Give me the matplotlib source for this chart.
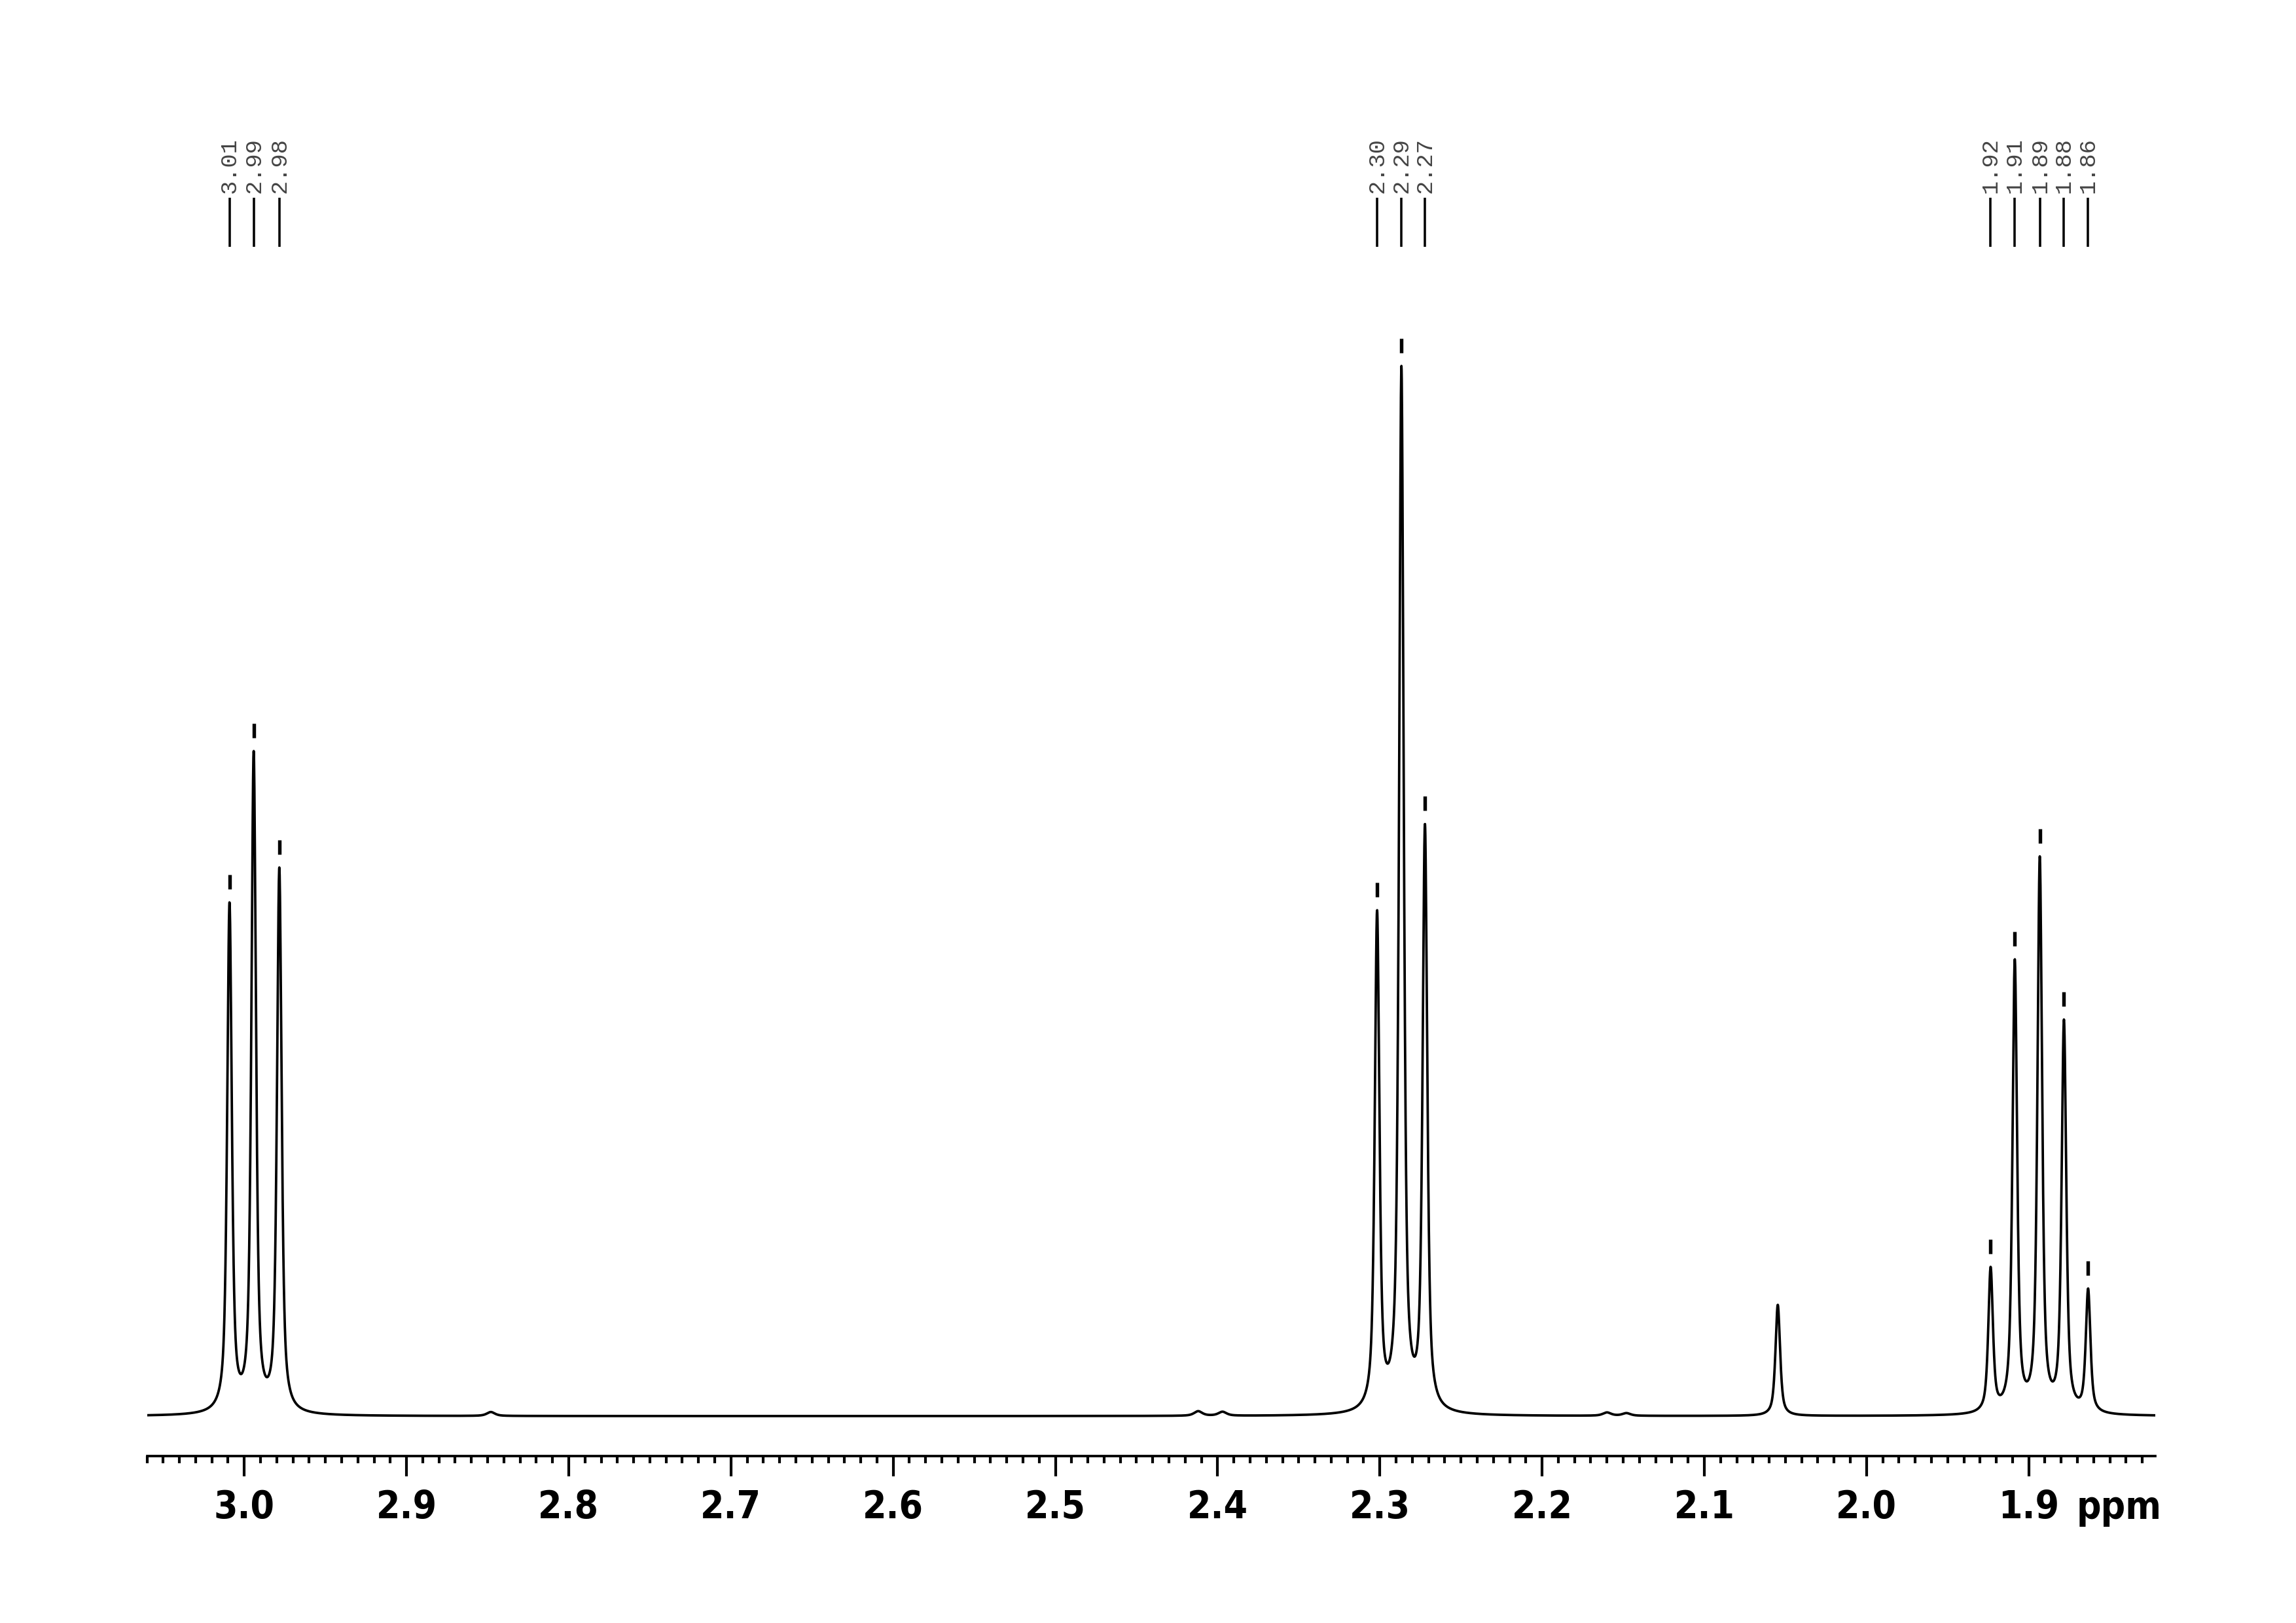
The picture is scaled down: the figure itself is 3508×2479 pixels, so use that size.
import numpy as np
import matplotlib
matplotlib.use("Agg")
import matplotlib.pyplot as plt
from matplotlib.ticker import MultipleLocator, FixedLocator
from matplotlib import font_manager as fm

# ---------------- data ----------------
peak_ppm = [3.0091, 2.9942, 2.9784, 2.3017, 2.2867, 2.2722, 2.0547,
            1.9235, 1.9086, 1.8932, 1.8783, 1.8634]
peak_height = [785, 1016, 838, 773, 1604, 905, 170,
               228, 698, 855, 606, 195]
peak_labelled = [True, True, True, True, True, True, False,
                 True, True, True, True, True]
peak_labels = ["3.01", "2.99", "2.98", "2.30", "2.29", "2.27",
               "1.92", "1.91", "1.89", "1.88", "1.86"]
# tiny baseline features
bump_ppm = [2.848, 2.412, 2.397, 2.160, 2.148]
bump_height = [6, 7, 6, 5, 4]

tick_values = [3.0, 2.9, 2.8, 2.7, 2.6, 2.5, 2.4, 2.3, 2.2, 2.1, 2.0, 1.9]
tick_labels = ["3.0", "2.9", "2.8", "2.7", "2.6", "2.5", "2.4", "2.3",
               "2.2", "2.1", "2.0", "1.9"]
x_left, x_right = 3.06, 1.822

# line shape (pseudo-Voigt)
hwhm = 0.0017
eta = 0.7


def shape(d, w=hwhm):
    lor = 1.0 / (1.0 + (d / w) ** 2)
    gau = np.exp(-np.log(2) * (d / w) ** 2)
    return eta * lor + (1 - eta) * gau


c = np.array(peak_ppm)
h = np.array(peak_height, dtype=float)
M = shape(c[:, None] - c[None, :])
amp = np.linalg.solve(M, h)

x = np.linspace(x_left, x_right, 12000)
y = (amp[None, :] * shape(x[:, None] - c[None, :])).sum(axis=1)
for bp, bh in zip(bump_ppm, bump_height):
    y += bh * shape(x - bp, 0.003)


# ---------------- fonts ----------------
def pick_font():
    for f in fm.fontManager.ttflist:
        if f.name == "Liberation Sans Narrow" and f.style == "normal" and str(f.weight) in ("700", "bold"):
            return fm.FontProperties(fname=f.fname), True
    for f in fm.fontManager.ttflist:
        if f.name == "DejaVu Sans" and "condensed" in str(f.stretch) and str(f.weight) in ("700", "bold") and f.style == "normal":
            return fm.FontProperties(fname=f.fname), True
    return fm.FontProperties(family="Liberation Sans", weight="bold"), False


tick_fp, narrow = pick_font()
tick_fp.set_size(14 if narrow else 12.5)

# ---------------- figure ----------------
W, H = 3508, 2479
BASE_PX = 2163      # baseline row in the image
AXIS_PX = 2224      # axis line row
TOP_PX = 150
fig = plt.figure(figsize=(W / 300, H / 300), dpi=300)
ax_left = 224.5 / W
ax_right = 3293 / W
ax_bottom = (H - AXIS_PX) / H
ax_top = (H - TOP_PX) / H
ax = fig.add_axes([ax_left, ax_bottom, ax_right - ax_left, ax_top - ax_bottom])

ax.plot(x, y, color="black", lw=0.9, solid_joinstyle="round")

ax.set_xlim(x_left, x_right)
off = AXIS_PX - BASE_PX
ax.set_ylim(-off, (AXIS_PX - TOP_PX) - off)

for s in ("left", "right", "top"):
    ax.spines[s].set_visible(False)
ax.spines["bottom"].set_linewidth(0.9)
ax.set_yticks([])

ax.xaxis.set_major_locator(FixedLocator(tick_values))
ax.set_xticklabels(tick_labels)
ax.xaxis.set_minor_locator(MultipleLocator(0.01))
ax.tick_params(axis="x", which="major", direction="out", length=7.5, width=1.0, pad=4.5)
ax.tick_params(axis="x", which="minor", direction="out", length=2.7, width=1.0)
for lab in ax.get_xticklabels():
    lab.set_fontproperties(tick_fp)

ax.annotate("ppm", xy=(1.8445, 0), xycoords=("data", "axes fraction"),
            xytext=(0, -23), textcoords="offset points",
            ha="center", va="baseline", fontproperties=tick_fp)

# peak markers and labels
lab_i = 0
for p, ph, is_lab in zip(peak_ppm, peak_height, peak_labelled):
    if not is_lab:
        continue
    ax.plot([p, p], [ph + 20, ph + 42], color="black", lw=1.3, solid_capstyle="butt")
    ax.plot([p, p], [1786, 1861], color="black", lw=0.85, solid_capstyle="butt")
    ax.text(p, 1868, peak_labels[lab_i], rotation=90, ha="center", va="bottom",
            family=["Liberation Mono", "DejaVu Sans Mono"], fontsize=8.5,
            color="#444444")
    lab_i += 1

fig.savefig("out.png", dpi=300, facecolor="white")
